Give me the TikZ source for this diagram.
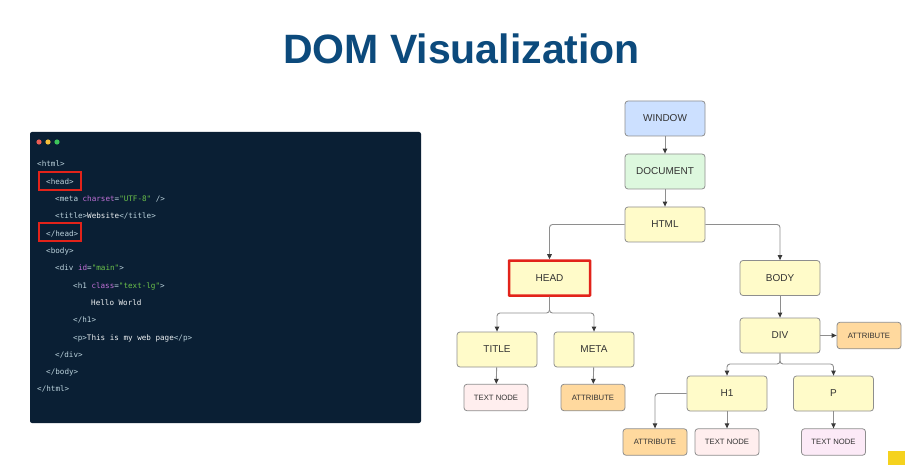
\documentclass[tikz,border=0pt]{standalone}
\usepackage{fontspec}
\setmainfont{Liberation Sans}
\setsansfont{Liberation Sans}
\setmonofont{DejaVu Sans Mono}
\usetikzlibrary{arrows.meta}
\definecolor{panelc}{HTML}{0A1F34}
\definecolor{tagc}{HTML}{BCD3DD}
\definecolor{attrc}{HTML}{C070D6}
\definecolor{strc}{HTML}{6CC24A}
\definecolor{txtc}{HTML}{EEF1F3}
\definecolor{redc}{HTML}{E2231A}
\definecolor{titlec}{HTML}{0C4A7C}
\definecolor{winc}{HTML}{CCE0FF}
\definecolor{docc}{HTML}{DDF8DE}
\definecolor{yelc}{HTML}{FFFBC9}
\definecolor{attrfill}{HTML}{FFD99E}
\definecolor{tnodea}{HTML}{FFEEEE}
\definecolor{tnodeb}{HTML}{FCEAF7}
\definecolor{borderc}{HTML}{8E8E8E}
\definecolor{linec}{HTML}{8E8E8E}
\definecolor{arrowc}{HTML}{3A3A3A}
\definecolor{labelc}{HTML}{333333}
\definecolor{sqc}{HTML}{F5D21E}
\definecolor{dotr}{HTML}{ED5E55}
\definecolor{doty}{HTML}{F4BE3A}
\definecolor{dotg}{HTML}{3DC55A}
\newcommand\codeattr[1]{\textcolor{attrc}{#1}}
\newcommand\codestr[1]{\textcolor{strc}{#1}}
\newcommand\codetxt[1]{\textcolor{txtc}{#1}}
\begin{document}
\begin{tikzpicture}[x=1pt,y=-1pt,
  box/.style={draw=borderc, line width=0.8pt, rounded corners=3pt,
    minimum width=80pt, minimum height=35pt, inner sep=0pt,
    font=\fontsize{10}{12}\selectfont, text=labelc},
  smallbox/.style={box, minimum width=64pt, minimum height=26.5pt,
    font=\fontsize{7.7}{9}\selectfont},
  conn/.style={draw=linec, line width=0.9pt, rounded corners=3pt,
    -{Triangle[length=5pt,width=4.5pt,color=arrowc]}},
  codeline/.style={anchor=west, inner sep=0pt, text=tagc,
    font=\ttfamily\fontsize{7.6}{9}\selectfont,
    text height=5.5pt, text depth=1.5pt}]
\useasboundingbox (0,0) rectangle (905,465);
\fill[white] (0,0) rectangle (905,465);

% title
\node[anchor=base, inner sep=0pt, text=titlec,
  font=\fontsize{41}{41}\selectfont\bfseries] (maintitle) at (461.5,64) {DOM Visualization};

% code panel
\fill[panelc, rounded corners=2pt] (30,132) rectangle (421,423);
\fill[dotr] (39,142) circle (2.6pt);
\fill[doty] (48,142) circle (2.6pt);
\fill[dotg] (57,142) circle (2.6pt);

\begin{scope}[yshift=-1.8pt]
\node[codeline] (c1) at (37,163) {<html>};
\node[codeline] (c2) at (46,180.5) {<head>};
\node[codeline] (c3) at (55,198) {<meta \codeattr{charset}=\codestr{"UTF-8"} />};
\node[codeline] (c4) at (55,215) {<title>\codetxt{Website}</title>};
\node[codeline] (c5) at (46,232.5) {</head>};
\node[codeline] (c6) at (46,250) {<body>};
\node[codeline] (c7) at (55,267) {<div \codeattr{id}=\codestr{"main"}>};
\node[codeline] (c8) at (73,284.5) {<h1 \codeattr{class}=\codestr{"text-lg"}>};
\node[codeline] (c9) at (91,302) {\codetxt{Hello World}};
\node[codeline] (c10) at (73,319) {</h1>};
\node[codeline] (c11) at (73,336.5) {<p>\codetxt{This is my web page}</p>};
\node[codeline] (c12) at (55,353.5) {</div>};
\node[codeline] (c13) at (46,371) {</body>};
\node[codeline] (c14) at (37,388) {</html>};
\end{scope}

\draw[redc, line width=2pt] (39,172) rectangle (81,190);
\draw[redc, line width=2pt] (39,223.5) rectangle (81,241.5);

% tree nodes
\node[box, fill=winc] (window) at (665,118.5) {WINDOW};
\node[box, fill=docc] (document) at (665,171.5) {DOCUMENT};
\node[box, fill=yelc] (html) at (665,224.5) {HTML};
\node[box, fill=yelc, draw=redc, line width=2.5pt, rounded corners=0.5pt,
  minimum width=81pt] (head) at (549.5,278) {HEAD};
\node[box, fill=yelc] (body) at (780,278) {BODY};
\node[box, fill=yelc] (title) at (497,349.5) {TITLE};
\node[box, fill=yelc] (meta) at (594,349.5) {META};
\node[box, fill=yelc] (div) at (780,335.5) {DIV};
\node[smallbox, fill=attrfill] (divattr) at (869,335.5) {ATTRIBUTE};
\node[box, fill=yelc] (h1) at (727,393.5) {H1};
\node[box, fill=yelc] (p) at (833.5,393.5) {P};
\node[smallbox, fill=tnodea] (titletext) at (496,397.5) {TEXT NODE};
\node[smallbox, fill=attrfill] (metaattr) at (593,397.5) {ATTRIBUTE};
\node[smallbox, fill=attrfill] (h1attr) at (655,442) {ATTRIBUTE};
\node[smallbox, fill=tnodea] (h1text) at (727,442) {TEXT NODE};
\node[smallbox, fill=tnodeb] (ptext) at (833.5,442) {TEXT NODE};

% connectors
\draw[conn] (window) -- (document);
\draw[conn] (document) -- (html);
\draw[conn] (html.west) -| (head.north);
\draw[conn] (html.east) -| (body.north);
\coordinate (hj) at (549.5,313);
\draw[conn] (head.south) -- (hj) -| (title.north);
\draw[conn] (head.south) -- (hj) -| (meta.north);
\draw[conn] (title) -- (titletext);
\draw[conn] (meta) -- (metaattr);
\draw[conn] (body) -- (div);
\draw[conn] (div) -- (divattr);
\coordinate (dj) at (780,364);
\draw[conn] (div.south) -- (dj) -| (h1.north);
\draw[conn] (div.south) -- (dj) -| (p.north);
\draw[conn] (h1.west) -| (h1attr.north);
\draw[conn] (h1) -- (h1text);
\draw[conn] (p) -- (ptext);

\fill[sqc] (888,451) rectangle (905,465);
\end{tikzpicture}
\end{document}
